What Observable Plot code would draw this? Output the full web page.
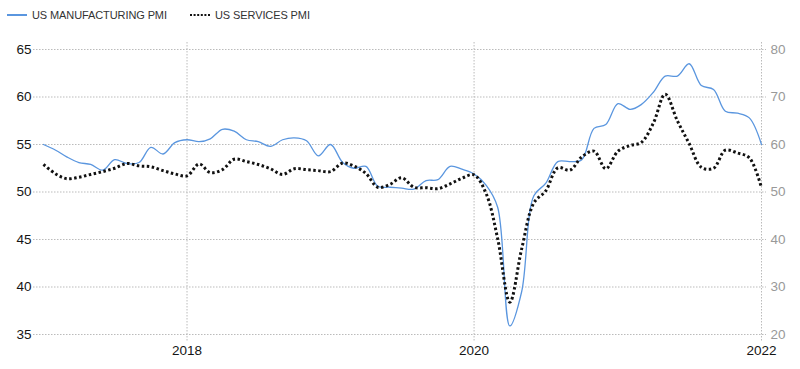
<!DOCTYPE html>
<html><head><meta charset="utf-8">
<script src="https://cdn.jsdelivr.net/npm/d3@7"></script>
<script src="https://cdn.jsdelivr.net/npm/@observablehq/plot@0.6"></script>
<style>
body{margin:0;background:#fff;font-family:"Liberation Sans",Arial,sans-serif;}
#legend{position:relative;height:30px;width:800px;}
.item{position:absolute;top:9px;display:flex;align-items:center;font-size:11px;color:#333;line-height:12px;letter-spacing:-0.1px;}
.item svg{margin-right:5px;}
</style></head><body>
<div id="legend">
  <div class="item" style="left:7px"><svg width="20" height="4"><line x1="0" x2="20" y1="2" y2="2" stroke="#5a96df" stroke-width="2"/></svg>US MANUFACTURING PMI</div>
  <div class="item" style="left:190px"><svg width="20" height="4"><line x1="0" x2="20" y1="2" y2="2" stroke="#111" stroke-width="2" stroke-dasharray="2,1.6"/></svg>US SERVICES PMI</div>
</div>
<div id="chart"></div>
<script>
// Monthly, Jan 2017 .. Jan 2022
const startMonth = "2017-01-01";
const endMonth = "2022-01-01";
const manufacturing = [
  55.0,54.4,53.7,53.1,52.9,52.3,53.4,53.0,53.1,54.7,54.0,55.2,
  55.5,55.3,55.6,56.6,56.4,55.5,55.3,54.8,55.5,55.7,55.4,53.8,
  55.0,53.1,52.5,52.7,50.6,50.5,50.4,50.3,51.2,51.3,52.7,52.4,
  51.9,50.7,48.4,35.9,39.5,49.6,50.9,53.2,53.2,53.4,56.7,57.1,
  59.3,58.7,59.2,60.5,62.2,62.2,63.5,61.2,60.8,58.5,58.3,57.8,
  55.0
];
const services = [
  55.8,53.8,52.8,53.1,53.7,54.3,55.0,56.0,55.5,55.3,54.5,53.8,
  53.4,55.9,54.1,54.7,56.9,56.4,55.8,54.9,53.7,54.9,54.7,54.5,
  54.3,56.1,55.5,53.9,51.0,51.6,53.0,51.0,50.9,50.7,51.7,52.9,
  53.6,49.6,40.2,26.8,38.0,47.7,50.2,55.1,54.6,57.4,58.6,54.9,
  58.6,59.8,60.4,64.5,70.6,65.0,60.2,55.2,55.0,58.8,58.2,57.2,
  50.9
];
const leftTicks = [35,40,45,50,55,60,65];
const xTickYears = ["2018-01-01","2020-01-01","2022-01-01"];

const dates = d3.utcMonth.range(new Date(startMonth), d3.utcMonth.offset(new Date(endMonth), 1));
const data = dates.map((d, i) => ({date: d, mfg: manufacturing[i], svc: services[i]}));
// Services PMI is read on the right axis (20..80), mapped onto the left scale (35..65)
const rightToLeft = r => (r + 50) / 2;
const leftToRight = v => 2 * v - 50;
const xTicks = xTickYears.map(s => new Date(s));

const chart = Plot.plot({
  width: 800, height: 339,
  marginTop: 19, marginBottom: 35, marginLeft: 43, marginRight: 39,
  x: {type: "utc", domain: [new Date(startMonth), new Date(endMonth)], label: null},
  y: {domain: [35, 65], label: null},
  style: {fontFamily: "'Liberation Sans', Arial, sans-serif", fontSize: "13.5px", color: "#111", background: "#fff"},
  marks: [
    Plot.gridY(leftTicks, {stroke: "#bbb", strokeOpacity: 1, strokeDasharray: "1.5,1.5", insetLeft: -10, insetRight: -5}),
    Plot.gridX(xTicks, {stroke: "#bbb", strokeOpacity: 1, strokeDasharray: "1.5,1.5", insetTop: -7, insetBottom: -7}),
    Plot.axisY(leftTicks, {anchor: "left", tickSize: 0, tickPadding: 12, fill: "#151515", label: null}),
    Plot.axisY(leftTicks, {anchor: "right", tickSize: 0, tickPadding: 9, fill: "#999", tickFormat: leftToRight, label: null}),
    Plot.axisX(xTicks, {anchor: "bottom", tickSize: 0, tickPadding: 11, fill: "#151515", tickFormat: d3.utcFormat("%Y"), label: null}),
    Plot.line(data, {x: "date", y: "mfg", stroke: "#5a96df", strokeWidth: 1.3, curve: "catmull-rom"}),
    Plot.line(data, {x: "date", y: d => rightToLeft(d.svc), stroke: "#111", strokeWidth: 3, strokeDasharray: "2.5,2.5", strokeLinecap: "butt", curve: "catmull-rom"})
  ]
});
document.getElementById("chart").appendChild(chart);
</script>
</body></html>
